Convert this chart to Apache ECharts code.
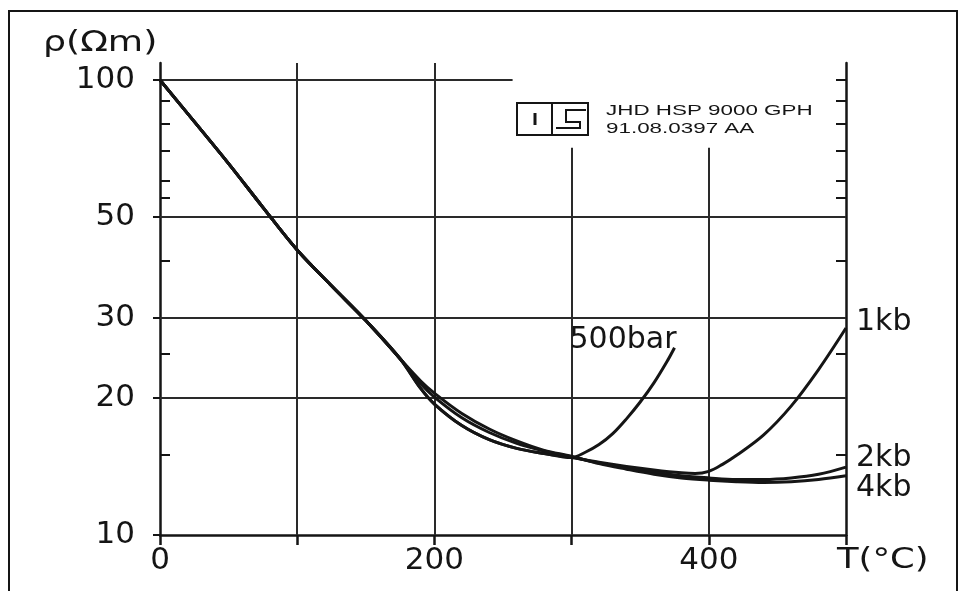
<!DOCTYPE html>
<html>
<head>
<meta charset="utf-8">
<script src="https://cdn.jsdelivr.net/npm/echarts@6/dist/echarts.min.js"></script>
<style>
  html, body { margin: 0; padding: 0; background: #fff; }
  #chart { width: 966px; height: 591px; }
</style>
</head>
<body>
<div id="chart"></div>
<script>
// shared part of all curves (they coincide up to ~175 °C)
const tempCommon = [0, 25, 50, 75, 100, 125, 150, 175];
const rhoCommon = [100, 81, 65.5, 52.5, 42.3, 35.3, 29.6, 24.4];

const temp500bar = [190, 200, 220, 240, 260, 280, 300, 310, 320, 330, 340, 350, 360, 370, 375];
const rho500bar = [21.0, 19.4, 17.4, 16.2, 15.5, 15.1, 14.8, 15.2, 15.8, 16.7, 18.0, 19.6, 21.6, 24.2, 25.8];

const temp1kb = [190, 200, 220, 240, 260, 280, 300, 320, 340, 360, 380, 390, 400, 410, 420, 440, 460, 480, 500];
const rho1kb = [21.0, 19.4, 17.4, 16.2, 15.5, 15.1, 14.8, 14.45, 14.15, 13.9, 13.7, 13.65, 13.8, 14.3, 14.95, 16.6, 19.2, 23.1, 28.5];

const temp2kb = [190, 200, 220, 240, 260, 280, 300, 320, 340, 360, 380, 400, 420, 440, 460, 480, 500];
const rho2kb = [21.5, 20.1, 18.1, 16.8, 15.9, 15.3, 14.85, 14.4, 14.05, 13.75, 13.5, 13.35, 13.25, 13.25, 13.35, 13.6, 14.1];

const temp4kb = [190, 200, 220, 240, 260, 280, 300, 320, 340, 360, 380, 400, 420, 440, 460, 480, 500];
const rho4kb = [21.8, 20.5, 18.5, 17.1, 16.1, 15.35, 14.9, 14.35, 13.95, 13.6, 13.35, 13.2, 13.1, 13.05, 13.1, 13.25, 13.5];

const xLabels = [0, 200, 400];
const yLabels = [10, 20, 30, 50, 100];
const yMinorTicks = [15, 25, 40, 55, 60, 70, 80, 90];

const gridRhoFull = [20, 30, 50];
const gridTempFull = [100, 200];
const gridTempShort = [300, 400];

const INK = '#151515';
const FONT = 'DejaVu Sans';

function pairs(ts, rs) {
  const t = tempCommon.concat(ts);
  const r = rhoCommon.concat(rs);
  return t.map((v, i) => [v, r[i]]);
}

function curve(name, ts, rs, label) {
  return {
    name: name,
    type: 'line',
    data: pairs(ts, rs),
    showSymbol: false,
    smooth: 0.35,
    z: 5,
    lineStyle: { color: INK, width: 3 },
    endLabel: Object.assign({
      show: true,
      formatter: name,
      color: INK,
      fontFamily: FONT,
      fontSize: 30
    }, label)
  };
}

const gridLines = [];
gridRhoFull.forEach(v => gridLines.push([{ coord: [0, v] }, { coord: [500, v] }]));
gridLines.push([{ coord: [0, 100] }, { coord: [257, 100] }]);
gridTempFull.forEach(v => gridLines.push([{ coord: [v, 10] }, { coord: [v, 109] }]));
gridTempShort.forEach(v => gridLines.push([{ coord: [v, 10] }, { coord: [v, 71] }]));

const myChart = echarts.init(document.getElementById('chart'));
myChart.setOption({
  animation: false,
  backgroundColor: '#fff',
  grid: { left: 160, right: 120, top: 63, bottom: 56 },
  xAxis: {
    type: 'value',
    min: 0,
    max: 500,
    interval: 100,
    splitLine: { show: false },
    axisLine: { lineStyle: { color: INK, width: 2.5 } },
    axisTick: { length: 10, lineStyle: { color: INK, width: 2.5 } },
    axisLabel: {
      color: INK,
      fontFamily: FONT,
      fontSize: 31,
      margin: 10,
      formatter: v => (xLabels.indexOf(v) >= 0 ? String(v) : '')
    }
  },
  yAxis: [
    {
      type: 'log',
      min: 10,
      max: 109,
      position: 'left',
      splitLine: { show: false },
      axisLine: { show: true, lineStyle: { color: INK, width: 2.5 } },
      axisTick: { customValues: yLabels, length: 7, lineStyle: { color: INK, width: 2 } },
      axisLabel: { customValues: yLabels, color: INK, fontFamily: FONT, fontSize: 31, margin: 25 }
    },
    {
      type: 'log',
      min: 10,
      max: 109,
      position: 'left',
      splitLine: { show: false },
      axisLine: { show: false },
      axisTick: { customValues: yMinorTicks, inside: true, length: 10, lineStyle: { color: INK, width: 2 } },
      axisLabel: { show: false }
    },
    {
      type: 'log',
      min: 10,
      max: 109,
      position: 'right',
      splitLine: { show: false },
      axisLine: { show: true, lineStyle: { color: INK, width: 2.5 } },
      axisTick: { customValues: yMinorTicks.concat([100]), inside: true, length: 10, lineStyle: { color: INK, width: 2 } },
      axisLabel: { show: false }
    }
  ],
  series: [
    {
      name: 'grid',
      type: 'line',
      data: [],
      z: 1,
      silent: true,
      markLine: {
        silent: true,
        symbol: ['none', 'none'],
        label: { show: false },
        lineStyle: { color: '#2a2a2a', width: 2, type: 'solid' },
        data: gridLines
      }
    },
    curve('500bar', temp500bar, rho500bar, { align: 'right', offset: [-6, -8] }),
    curve('1kb', temp1kb, rho1kb, { offset: [2, -6] }),
    curve('2kb', temp2kb, rho2kb, { offset: [2, -9] }),
    curve('4kb', temp4kb, rho4kb, { offset: [2, 13] })
  ],
  graphic: [
    {
      type: 'rect',
      shape: { x: 9, y: 11, width: 948, height: 600 },
      style: { fill: 'none', stroke: INK, lineWidth: 2 },
      silent: true
    },
    {
      type: 'text',
      x: 43, y: 29,
      scaleX: 1.25,
      style: { text: 'ρ(Ωm)', fill: INK, font: '29px "DejaVu Sans"' }
    },
    {
      type: 'text',
      x: 837, y: 546,
      scaleX: 1.22,
      style: { text: 'T(°C)', fill: INK, font: '29px "DejaVu Sans"' }
    },
    {
      type: 'rect',
      shape: { x: 517, y: 103, width: 71, height: 32 },
      style: { fill: 'none', stroke: INK, lineWidth: 2 }
    },
    {
      type: 'line',
      shape: { x1: 552, y1: 103, x2: 552, y2: 135 },
      style: { stroke: INK, lineWidth: 2 }
    },
    {
      type: 'line',
      shape: { x1: 535, y1: 113, x2: 535, y2: 125 },
      style: { stroke: INK, lineWidth: 3 }
    },
    {
      type: 'polyline',
      shape: { points: [[586, 110], [566, 110], [566, 122], [580, 122], [580, 128], [556, 128]] },
      style: { fill: 'none', stroke: INK, lineWidth: 2 }
    },
    {
      type: 'text',
      x: 606, y: 104,
      scaleX: 1.6,
      style: { text: 'JHD HSP 9000 GPH', fill: INK, font: '14px "Liberation Sans"' }
    },
    {
      type: 'text',
      x: 606, y: 122,
      scaleX: 1.6,
      style: { text: '91.08.0397 AA', fill: INK, font: '14px "Liberation Sans"' }
    }
  ]
});
</script>
</body>
</html>
